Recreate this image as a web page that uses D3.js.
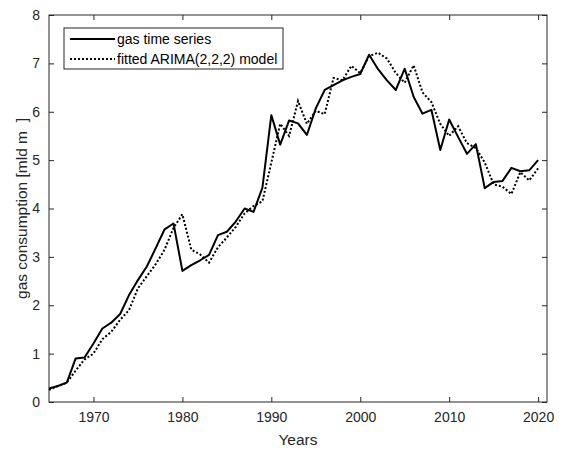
<!DOCTYPE html>
<html>
<head>
<meta charset="utf-8">
<script src="https://cdn.jsdelivr.net/npm/d3@7"></script>
<style>
  body { margin: 0; background: #fff; }
  svg { display: block; font-family: "Liberation Sans", Arial, sans-serif; }
</style>
</head>
<body>
<svg id="chart" width="565" height="450"></svg>
<script>
let years = d3.range(1965, 2021);

let gasSeries = [
  0.28, 0.33, 0.40, 0.90, 0.92, 1.21, 1.52, 1.64, 1.82, 2.21,
  2.52, 2.80, 3.18, 3.57, 3.69, 2.71, 2.83, 2.93, 3.04, 3.45,
  3.52, 3.73, 4.00, 3.93, 4.43, 5.93, 5.32, 5.82, 5.76, 5.52,
  6.07, 6.45, 6.55, 6.65, 6.72, 6.78, 7.18, 6.88, 6.65, 6.45,
  6.89, 6.31, 5.96, 6.04, 5.21, 5.84, 5.48, 5.13, 5.33, 4.42,
  4.55, 4.57, 4.84, 4.77, 4.79, 5.00
];

let fittedModel = [
  0.25, 0.33, 0.40, 0.65, 0.88, 1.00, 1.30, 1.45, 1.70, 1.90,
  2.35, 2.60, 2.85, 3.15, 3.60, 3.88, 3.15, 3.05, 2.88, 3.20,
  3.40, 3.62, 3.90, 4.05, 4.15, 4.95, 5.75, 5.50, 6.22, 5.75,
  6.02, 5.95, 6.70, 6.65, 6.95, 6.80, 7.15, 7.22, 7.10, 6.80,
  6.60, 6.96, 6.40, 6.20, 5.75, 5.50, 5.70, 5.35, 5.25, 4.95,
  4.50, 4.45, 4.30, 4.75, 4.58, 4.83
];

let xTicks = [1970, 1980, 1990, 2000, 2010, 2020];
let yTicks = [0, 1, 2, 3, 4, 5, 6, 7, 8];

let legendLabels = ["gas time series", "fitted ARIMA(2,2,2) model"];

let svg = d3.select("#chart");
let margin = { top: 15, right: 18, bottom: 48, left: 49 };
let width = 565 - margin.left - margin.right;
let height = 450 - margin.top - margin.bottom;
let axisColor = "#262626";

let g = svg.append("g")
  .attr("transform", "translate(" + margin.left + "," + margin.top + ")");

let x = d3.scaleLinear().domain([1965, 2021]).range([0, width]);
let y = d3.scaleLinear().domain([0, 8]).range([height, 0]);

let styleAxis = (sel) => {
  sel.select(".domain").remove();
  sel.selectAll("line").attr("stroke", axisColor);
  sel.selectAll("text").attr("fill", axisColor).style("font-size", "14px");
};

// bottom and left axes with labels
g.append("g")
  .attr("transform", "translate(0," + height + ")")
  .call(d3.axisBottom(x).tickValues(xTicks).tickFormat(d3.format("d")).tickSizeInner(-5).tickPadding(10))
  .call(styleAxis);

g.append("g")
  .call(d3.axisLeft(y).tickValues(yTicks).tickFormat(d3.format("d")).tickSizeInner(-5).tickPadding(9))
  .call(styleAxis);

// top and right ticks only
g.append("g")
  .call(d3.axisTop(x).tickValues(xTicks).tickFormat("").tickSizeInner(-5))
  .call(styleAxis);

g.append("g")
  .attr("transform", "translate(" + width + ",0)")
  .call(d3.axisRight(y).tickValues(yTicks).tickFormat("").tickSizeInner(-5))
  .call(styleAxis);

// box
g.append("rect")
  .attr("width", width)
  .attr("height", height)
  .attr("fill", "none")
  .attr("stroke", axisColor)
  .attr("stroke-width", 1);

let line = d3.line()
  .x((d, i) => x(years[i]))
  .y((d) => y(d));

g.append("path")
  .datum(fittedModel)
  .attr("fill", "none")
  .attr("stroke", "#000")
  .attr("stroke-width", 2)
  .attr("stroke-dasharray", "2,2")
  .attr("d", line);

g.append("path")
  .datum(gasSeries)
  .attr("fill", "none")
  .attr("stroke", "#000")
  .attr("stroke-width", 2)
  .attr("stroke-linejoin", "round")
  .attr("d", line);

// axis titles
svg.append("text")
  .attr("x", margin.left + width / 2)
  .attr("y", 445)
  .attr("text-anchor", "middle")
  .attr("fill", axisColor)
  .style("font-size", "15.5px")
  .text("Years");

svg.append("text")
  .attr("transform", "translate(27," + (margin.top + height / 2) + ") rotate(-90)")
  .attr("text-anchor", "middle")
  .attr("fill", axisColor)
  .style("font-size", "15.5px")
  .style("white-space", "pre")
  .text("gas consumption [mld m  ]");

// legend
let legend = g.append("g").attr("transform", "translate(15,13)");
legend.append("rect")
  .attr("width", 219)
  .attr("height", 41)
  .attr("fill", "#fff")
  .attr("stroke", axisColor)
  .attr("stroke-width", 1);

let legendItems = legend.selectAll(".item")
  .data(legendLabels)
  .enter()
  .append("g")
  .attr("class", "item")
  .attr("transform", (d, i) => "translate(0," + (11 + i * 20) + ")");

legendItems.append("line")
  .attr("x1", 6)
  .attr("x2", 51)
  .attr("stroke", "#000")
  .attr("stroke-width", 2)
  .attr("stroke-dasharray", (d, i) => i === 0 ? null : "2,2");

legendItems.append("text")
  .attr("x", 53)
  .attr("dy", "0.35em")
  .attr("fill", "#000")
  .style("font-size", "14px")
  .text((d) => d);
</script>
</body>
</html>
